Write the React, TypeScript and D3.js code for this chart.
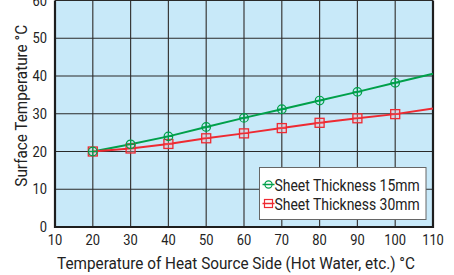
import { useEffect, useRef } from "react";
import * as d3 from "d3";

const xTicks = [10, 20, 30, 40, 50, 60, 70, 80, 90, 100, 110];
const yTicks = [0, 10, 20, 30, 40, 50, 60];
const heatTemps = [20, 30, 40, 50, 60, 70, 80, 90, 100, 110];
const thick15 = [20, 21.9, 24.0, 26.5, 28.9, 31.2, 33.5, 35.8, 38.2, 40.6];
const thick30 = [20, 20.8, 22.0, 23.5, 24.8, 26.2, 27.6, 28.8, 29.9, 31.4];
const seriesNames = ["Sheet Thickness 15mm", "Sheet Thickness 30mm"];

const W = 454;
const H = 275;
const PLOT = { left: 55, right: 433, top: 0.5, bottom: 227 };
const FONT = "Roboto, 'Liberation Sans', sans-serif";
const GREEN = "#00a04a";
const RED = "#ee2a32";

type G = d3.Selection<SVGGElement, unknown, null, undefined>;
type S = d3.Selection<SVGSVGElement, unknown, null, undefined>;

// narrow-looking text: Roboto squeezed horizontally
function narrowText(
  parent: G | S,
  x: number,
  y: number,
  text: string,
  size: number,
  anchor = "start",
  sx = 0.86
) {
  return parent
    .append("text")
    .attr("transform", `translate(${x},${y}) scale(${sx},1)`)
    .attr("text-anchor", anchor)
    .attr("font-family", FONT)
    .attr("font-size", size)
    .attr("fill", "#222")
    .text(text);
}

function App() {
  const svgRef = useRef<SVGSVGElement>(null);

  useEffect(() => {
    const svg = svgRef.current;
    if (!svg) return;
    d3.select(svg).selectAll("*").remove();
    const root = d3.select(svg) as unknown as S;

    const x = d3.scaleLinear().domain([10, 110]).range([PLOT.left, PLOT.right]);
    const y = d3.scaleLinear().domain([0, 60]).range([PLOT.bottom, PLOT.top]);

    // Background
    root
      .append("rect")
      .attr("x", PLOT.left)
      .attr("y", PLOT.top)
      .attr("width", PLOT.right - PLOT.left)
      .attr("height", PLOT.bottom - PLOT.top)
      .attr("fill", "#c8e9f9");

    // Grid lines
    root
      .append("g")
      .selectAll("line")
      .data(xTicks.slice(1, -1))
      .join("line")
      .attr("x1", (d) => x(d))
      .attr("x2", (d) => x(d))
      .attr("y1", PLOT.top)
      .attr("y2", PLOT.bottom)
      .attr("stroke", "#3a3a3a")
      .attr("stroke-width", 1.2);

    root
      .append("g")
      .selectAll("line")
      .data(yTicks.slice(1))
      .join("line")
      .attr("x1", PLOT.left)
      .attr("x2", PLOT.right)
      .attr("y1", (d) => y(d))
      .attr("y2", (d) => y(d))
      .attr("stroke", "#2a2a2a")
      .attr("stroke-width", 1.2);

    // Frame
    root
      .append("path")
      .attr("d", `M${PLOT.left},${PLOT.top}V${PLOT.bottom}H${PLOT.right}V${PLOT.top}`)
      .attr("fill", "none")
      .attr("stroke", "#1e1e1e")
      .attr("stroke-width", 2.2);

    // Tick labels
    yTicks.forEach((d) => narrowText(root, 47, y(d) + 5, String(d), 15, "end"));
    xTicks.forEach((d) => narrowText(root, x(d), 245, String(d), 15, "middle"));

    // Axis titles
    narrowText(root, 236, 269, "Temperature of Heat Source Side (Hot Water, etc.) °C", 17, "middle", 0.9);

    root
      .append("text")
      .attr("transform", `translate(27,${(PLOT.top + PLOT.bottom) / 2 - 8}) rotate(-90) scale(0.9,1)`)
      .attr("text-anchor", "middle")
      .attr("font-family", FONT)
      .attr("font-size", 17)
      .attr("fill", "#222")
      .text("Surface Temperature °C");

    // Lines
    const series = [
      { values: thick15, color: GREEN, kind: "circle" },
      { values: thick30, color: RED, kind: "square" },
    ];
    const line = d3
      .line<number>()
      .x((_, i) => x(heatTemps[i]))
      .y((d) => y(d));

    series.forEach((s) => {
      root
        .append("path")
        .datum(s.values)
        .attr("fill", "none")
        .attr("stroke", s.color)
        .attr("stroke-width", 2)
        .attr("d", line);
    });

    // Markers (no marker at 110)
    const drawMarker = (g: G, kind: string, color: string) => {
      if (kind === "circle") {
        g.append("circle").attr("r", 4.3).attr("fill", "none").attr("stroke", color).attr("stroke-width", 1.2);
        g.append("line").attr("x1", -4.3).attr("x2", 4.3).attr("stroke", color).attr("stroke-width", 1.2);
        g.append("line").attr("y1", -4.3).attr("y2", 4.3).attr("stroke", color).attr("stroke-width", 1.2);
      } else {
        g.append("rect")
          .attr("x", -4.5)
          .attr("y", -4.5)
          .attr("width", 9)
          .attr("height", 9)
          .attr("fill", "rgba(255,180,190,0.35)")
          .attr("stroke", color)
          .attr("stroke-width", 1.3);
        g.append("line").attr("x1", -4.5).attr("x2", 4.5).attr("stroke", color).attr("stroke-width", 1.2);
      }
    };

    // red first so green sits on top at the shared start
    [series[1], series[0]].forEach((s) => {
      heatTemps.forEach((t, i) => {
        if (t > 100) return;
        const g = root.append("g").attr("transform", `translate(${x(t)},${y(s.values[i])})`);
        drawMarker(g, s.kind, s.color);
      });
    });

    // Legend
    const lg = root.append("g").attr("transform", "translate(259.5,167.5)");
    lg.append("rect")
      .attr("width", 166.5)
      .attr("height", 52)
      .attr("fill", "#fff")
      .attr("stroke", "#666")
      .attr("stroke-width", 1);
    series.forEach((s, i) => {
      const cy = 17 + i * 19;
      lg.append("line")
        .attr("x1", 3)
        .attr("x2", 15)
        .attr("y1", cy)
        .attr("y2", cy)
        .attr("stroke", s.color)
        .attr("stroke-width", 1.5);
      const mg = lg.append("g").attr("transform", `translate(9,${cy})`);
      if (s.kind === "circle") {
        mg.append("circle").attr("r", 3.6).attr("fill", "none").attr("stroke", s.color).attr("stroke-width", 1.2);
      } else {
        mg.append("rect")
          .attr("x", -4)
          .attr("y", -4)
          .attr("width", 8)
          .attr("height", 8)
          .attr("fill", "none")
          .attr("stroke", s.color)
          .attr("stroke-width", 1.2);
      }
      narrowText(lg as G, 15, cy + 6, seriesNames[i], 17, "start", 0.82);
    });
  }, []);

  return (
    <svg
      ref={svgRef}
      width={W}
      height={H}
      style={{ position: "absolute", left: 0, top: 0, display: "block", background: "#fff" }}
    />
  );
}

export default App;
